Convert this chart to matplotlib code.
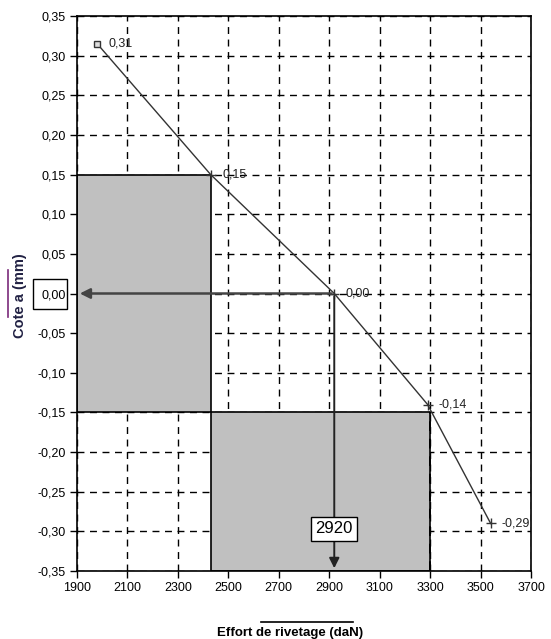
import numpy as np
import matplotlib.pyplot as plt
from matplotlib.patches import Rectangle
from matplotlib.lines import Line2D

plt.rcParams['font.family'] = ['Liberation Sans', 'DejaVu Sans']

effort = [1980, 2430, 2920, 3290, 3540]
cote = [0.315, 0.15, 0.00, -0.14, -0.29]
point_labels = ["0,31", "0,15", "0,00", "-0,14", "-0,29"]
x_ticks = [1900, 2100, 2300, 2500, 2700, 2900, 3100, 3300, 3500, 3700]
y_ticks = np.round(np.arange(-0.35, 0.351, 0.05), 2)
target_effort = 2920
tol_low, tol_high = -0.15, 0.15
effort_low, effort_high = 2430, 3300

fig = plt.figure(figsize=(5.51, 6.39), dpi=100)
ax = fig.add_axes([77 / 551, 68 / 639, 454 / 551, 555 / 639])
ax.set_xlim(1900, 3700)
ax.set_ylim(-0.35, 0.35)

# grey zones (cover the grid)
ax.add_patch(Rectangle((1900, tol_low), effort_low - 1900, tol_high - tol_low,
                       facecolor='#c0c0c0', edgecolor='black', lw=1.2, zorder=1))
ax.add_patch(Rectangle((effort_low, -0.35), effort_high - effort_low, tol_low + 0.35,
                       facecolor='#c0c0c0', edgecolor='black', lw=1.2, zorder=1))
# dashed grid line visible on the right edge of the bottom zone
ax.vlines(effort_high, -0.35, tol_low, colors='black', linestyles=(0, (5, 4)), lw=1.4, zorder=2)

ax.set_xticks(x_ticks)
ax.set_yticks(y_ticks)
ax.set_xticklabels([str(v) for v in x_ticks])
ax.set_yticklabels([f"{v:.2f}".replace('.', ',').replace('-0,00', '0,00') for v in y_ticks])
ax.set_axisbelow(True)
ax.grid(True, color='black', linestyle=(0, (5, 4)), linewidth=1.0)
ax.tick_params(direction='out', length=5, width=1, labelsize=9, colors='black', pad=3)
for s in ax.spines.values():
    s.set_linewidth(1.2)

# curve
ax.plot(effort, cote, color='#333333', lw=1.0, zorder=4)
ax.plot(effort[:1], cote[:1], marker='s', ms=5, mfc='#dddddd', mec='#333333', ls='none', zorder=5)
ax.plot(effort[1:], cote[1:], marker='+', ms=7, mec='#333333', ls='none', zorder=5)
for x, y, t in zip(effort, cote, point_labels):
    ax.text(x + 45, y, t, fontsize=9, va='center', ha='left', color='#222222', zorder=6)

# arrows from target point
ax.annotate('', xy=(1900, 0), xytext=(target_effort, 0),
            arrowprops=dict(arrowstyle='-|>', color='#444444', lw=1.8, mutation_scale=15), zorder=5)
ax.annotate('', xy=(target_effort, -0.35), xytext=(target_effort, 0),
            arrowprops=dict(arrowstyle='-|>', color='#222222', lw=1.4, mutation_scale=15), zorder=5)
ax.text(target_effort, -0.297, str(target_effort), fontsize=12, ha='center', va='center', zorder=7,
        bbox=dict(boxstyle='square,pad=0.25', facecolor='white', edgecolor='black', lw=1))

# box around 0,00 tick label
fig.add_artist(Rectangle((33 / 551, 1 - 309 / 639), 34 / 551, 30 / 639,
                         transform=fig.transFigure, fill=False, edgecolor='black', lw=1))

# axis titles with legend-like lines
fig.text(290 / 551, 1 - 633 / 639, "Effort de rivetage (daN)", fontsize=9.5, fontweight='bold',
         ha='center', va='center')
fig.add_artist(Line2D([261 / 551, 353 / 551], [1 - 622 / 639] * 2, transform=fig.transFigure,
                      color='black', lw=1.2))
fig.text(20 / 551, 1 - 296 / 639, "Cote a (mm)", fontsize=10.5, fontweight='bold', rotation=90,
         ha='center', va='center', color='#222244')
fig.add_artist(Line2D([8 / 551] * 2, [1 - 270 / 639, 1 - 317 / 639], transform=fig.transFigure,
                      color='#7a2a7a', lw=1.2))

fig.savefig('out.png', dpi=100)
